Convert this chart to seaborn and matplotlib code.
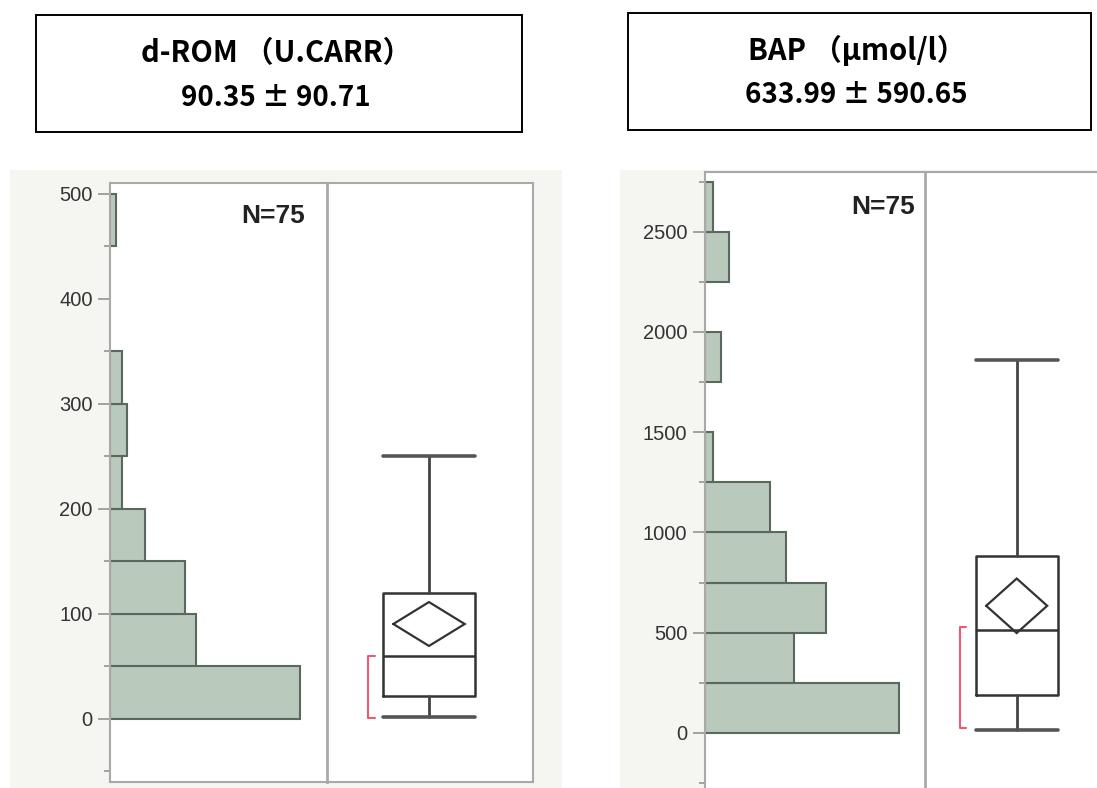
import numpy as np
import pandas as pd
import matplotlib
matplotlib.use("Agg")
import matplotlib.pyplot as plt
from matplotlib.patches import Rectangle
import seaborn as sns

# ---------------- data ----------------
n_obs = 75
drom_edges = [0, 50, 100, 150, 200, 250, 300, 350, 400, 450, 500]
drom_counts = [33, 15, 13, 6, 2, 3, 2, 0, 0, 1]
drom_stats = dict(whislo=2, q1=22, med=60, q3=120, whishi=250)
drom_mean, drom_sd = 90.35, 90.71
drom_shortest_half = (1, 60)

bap_edges = [0, 250, 500, 750, 1000, 1250, 1500, 1750, 2000, 2250, 2500, 2750]
bap_counts = [24, 11, 15, 10, 8, 1, 0, 2, 0, 3, 1]
bap_stats = dict(whislo=15, q1=190, med=514, q3=883, whishi=1860)
bap_mean, bap_sd = 633.99, 590.65
bap_shortest_half = (23, 530)

drom_title = "d-ROM （U.CARR）"
drom_sub = "90.35 ± 90.71"
bap_title = "BAP （μmol/l）"
bap_sub = "633.99 ± 590.65"
n_label = "N=75"

# ---------------- style ----------------
sns.set_theme(style="white")
plt.rcParams["font.family"] = ["Liberation Sans", "DejaVu Sans"]

W, H = 1097, 788
fig = plt.figure(figsize=(W / 100, H / 100), dpi=100)
fig.patch.set_facecolor("white")


def fx(px):
    return px / W


def fy(py):
    return 1 - py / H


def axes_px(x0, y0, x1, y1):
    return fig.add_axes([fx(x0), fy(y1), (x1 - x0) / W, (y1 - y0) / H])


BG = "#f5f5f1"
FRAME = "#a9a9a9"
FILL = "#b9cabc"
EDGE = "#5a685d"
BOXC = "#333333"
RED = "#ee5a72"
TITLE_FONT = ["Noto Sans CJK JP", "DejaVu Sans"]

# panel backgrounds
fig.add_artist(Rectangle((fx(10), fy(788)), (562 - 10) / W, (788 - 170) / H,
                         transform=fig.transFigure, facecolor=BG, edgecolor="none", zorder=0))
fig.add_artist(Rectangle((fx(620), fy(788)), (1097 - 620) / W, (788 - 170) / H,
                         transform=fig.transFigure, facecolor=BG, edgecolor="none", zorder=0))

# title boxes
for (x0, y0, x1, y1, t1, t2, ty1, ty2) in [
    (36, 15, 522, 132, drom_title, drom_sub, 53, 98),
    (628, 13, 1091, 130, bap_title, bap_sub, 50, 95),
]:
    fig.add_artist(Rectangle((fx(x0), fy(y1)), (x1 - x0) / W, (y1 - y0) / H,
                             transform=fig.transFigure, facecolor="white",
                             edgecolor="black", linewidth=1.4, zorder=1))
    cx = fx((x0 + x1) / 2 - 3)
    fig.text(cx, fy(ty1), t1, ha="center", va="center", fontsize=21,
             fontweight="bold", family=TITLE_FONT, color="black", zorder=2)
    fig.text(cx, fy(ty2), t2, ha="center", va="center", fontsize=20,
             fontweight="bold", family=TITLE_FONT, color="black", zorder=2)


def make_panel(hist_box, box_box, edges, counts, stats, mean, sd, shalf,
               ylim, xmax, major, minor, box_pos, box_w, dia_w, br_x, n_xy):
    axh = axes_px(*hist_box)
    axb = axes_px(*box_box)
    for ax in (axh, axb):
        ax.set_facecolor("white")
        ax.set_ylim(*ylim)
        for s in ax.spines.values():
            s.set_color(FRAME)
            s.set_linewidth(1.5)
            s.set_visible(True)

    edges_l = [float(e) for e in edges]
    centers = [(a + b) / 2 for a, b in zip(edges_l[:-1], edges_l[1:])]
    df = pd.DataFrame({"value": centers, "count": counts})
    sns.histplot(data=df, y="value", weights="count", bins=edges_l, ax=axh,
                 color=FILL, edgecolor=EDGE, linewidth=1.5, alpha=1.0)
    for p in list(axh.patches):
        if p.get_width() == 0:
            p.remove()
    axh.set_xlim(0, xmax)
    axh.set_ylim(*ylim)
    axh.set_xlabel("")
    axh.set_ylabel("")
    axh.set_xticks([])
    axh.spines["right"].set_visible(False)
    axh.set_yticks(major)
    axh.set_yticklabels([str(v) for v in major])
    axh.set_yticks(minor, minor=True)
    axh.tick_params(axis="y", which="major", direction="out", length=8.6, width=1.1,
                    color="#8a8a8a", labelcolor="#333333", labelsize=14.5, pad=4,
                    left=True)
    axh.tick_params(axis="y", which="minor", direction="out", length=4.3, width=1.1,
                    color="#8a8a8a", left=True)
    axh.text(n_xy[0], n_xy[1], n_label, transform=fig.transFigure, ha="right",
             va="center", fontsize=19, fontweight="bold", color="#222222",
             family=["Liberation Sans", "DejaVu Sans"])

    # box plot from summary statistics
    st = dict(stats)
    st["fliers"] = []
    axb.bxp([st], positions=[box_pos], widths=[box_w], capwidths=[box_w],
            showfliers=False, patch_artist=False,
            boxprops=dict(color=BOXC, linewidth=1.8),
            whiskerprops=dict(color="#444444", linewidth=2.0),
            capprops=dict(color="#555555", linewidth=2.6),
            medianprops=dict(color=BOXC, linewidth=1.8))
    axb.set_xlim(0, 1)
    axb.set_ylim(*ylim)
    axb.set_xticks([])
    axb.set_yticks([])
    axb.spines["left"].set_linewidth(2)
    # mean diamond with 95% CI
    ci = 1.993 * sd / np.sqrt(n_obs)
    dx = [box_pos - dia_w, box_pos, box_pos + dia_w, box_pos, box_pos - dia_w]
    dy = [mean, mean + ci, mean, mean - ci, mean]
    axb.plot(dx, dy, color=BOXC, linewidth=1.6, solid_joinstyle="miter")
    # shortest half bracket
    axb.plot([br_x[1], br_x[0], br_x[0], br_x[1]],
             [shalf[1], shalf[1], shalf[0], shalf[0]], color=RED, linewidth=1.5)
    return axh, axb


make_panel((110, 183, 327, 782), (327, 183, 533, 782), drom_edges, drom_counts,
           drom_stats, drom_mean, drom_sd, drom_shortest_half,
           ylim=(-60, 510), xmax=37.7,
           major=[0, 100, 200, 300, 400, 500],
           minor=[-50, 50, 150, 250, 350, 450],
           box_pos=(429 - 327) / 206, box_w=92 / 206, dia_w=35.7 / 206,
           br_x=((368 - 327) / 206, (375 - 327) / 206),
           n_xy=(fx(305), fy(216)))

make_panel((705, 172, 925, 792), (925, 172, 1102, 792), bap_edges, bap_counts,
           bap_stats, bap_mean, bap_sd, bap_shortest_half,
           ylim=(-295, 2798), xmax=27.2,
           major=[0, 500, 1000, 1500, 2000, 2500],
           minor=[-250, 250, 750, 1250, 1750, 2250, 2750],
           box_pos=(1016.7 - 925) / 177, box_w=82 / 177, dia_w=30.5 / 177,
           br_x=((960 - 925) / 177, (966 - 925) / 177),
           n_xy=(fx(915), fy(207)))

fig.savefig("out.png", dpi=100)
